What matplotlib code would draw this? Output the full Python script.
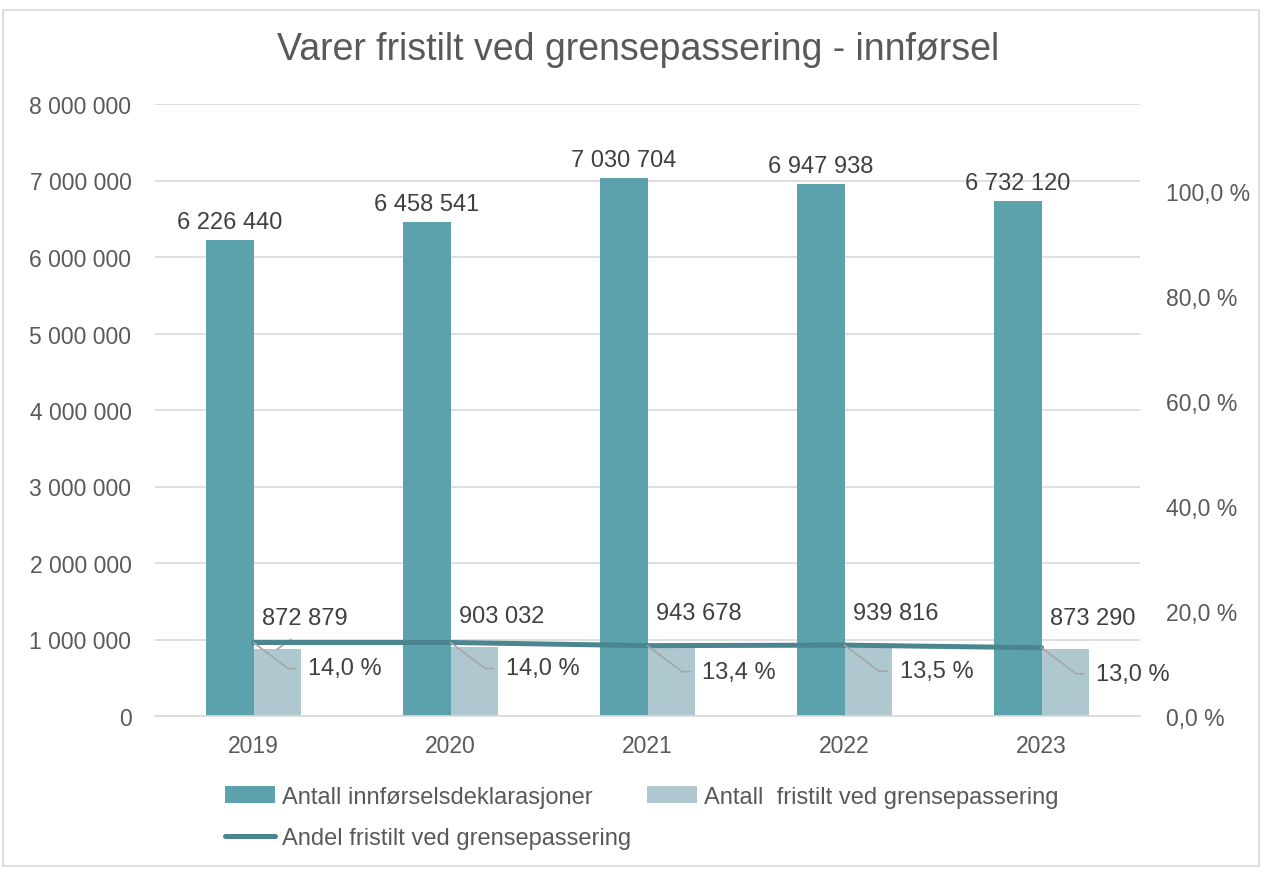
import matplotlib

matplotlib.use("Agg")
from matplotlib import pyplot as plt
from matplotlib.patches import Rectangle
from matplotlib.ticker import FuncFormatter
import numpy as np

plt.rcParams['font.family'] = ['Liberation Sans', 'DejaVu Sans']

# data
years = ['2019', '2020', '2021', '2022', '2023']
declarations = [6226440, 6458541, 7030704, 6947938, 6732120]
exempted = [872879, 903032, 943678, 939816, 873290]
share = [0.140, 0.140, 0.134, 0.135, 0.130]

title = 'Varer fristilt ved grensepassering - innførsel'
label_decl = 'Antall innførselsdeklarasjoner'
label_exempt = 'Antall  fristilt ved grensepassering'
label_share = 'Andel fristilt ved grensepassering'

dark = '#5BA2AD'
light = '#AFC8CF'
line_col = '#4A8590'
grid_col = '#D9D9D9'
tick_col = '#595959'
text_col = '#404040'


def space_thousands(v, pos=None):
    return f"{int(round(v)):,}".replace(',', ' ')


def pct(v, pos=None):
    return f"{v * 100:.1f} %".replace('.', ',')


W, H = 1262, 870
fig = plt.figure(figsize=(W / 100, H / 100), dpi=100)
fig.patches.append(Rectangle((3 / W, 3 / H), 1 - 6 / W, 1 - 14 / H,
                             transform=fig.transFigure, fill=False,
                             edgecolor=grid_col, linewidth=1.2))

ax = fig.add_axes([155 / W, 1 - 717 / H, 985 / W, 612 / H])
x = np.arange(len(years))
bw = 0.24

ax.bar(x - bw / 2, declarations, bw, color=dark, label=label_decl, zorder=2)
ax.bar(x + bw / 2, exempted, bw, color=light, label=label_exempt, zorder=2)

ax.set_xlim(-0.5, len(years) - 0.5)
ax.set_ylim(0, 8000000)
ax.set_yticks(np.arange(0, 8000001, 1000000))
ax.yaxis.set_major_formatter(FuncFormatter(space_thousands))
ax.set_xticks(x)
ax.set_xticklabels(years)
ax.grid(axis='y', color=grid_col, linewidth=1.2, zorder=0)
ax.set_axisbelow(True)
for s in ['top', 'right', 'left']:
    ax.spines[s].set_visible(False)
ax.spines['bottom'].set_color(grid_col)
ax.spines['bottom'].set_linewidth(1.2)
ax.tick_params(length=0, labelsize=16.5, labelcolor=tick_col)
ax.tick_params(axis='y', pad=17)
ax.tick_params(axis='x', pad=13)

for i, v in enumerate(declarations):
    ax.annotate(space_thousands(v), (x[i] - bw / 2, v), xytext=(0, 18),
                textcoords='offset pixels', ha='center', va='center',
                fontsize=17, color=text_col)

for i, v in enumerate(exempted):
    arrow = None
    if i == 0:
        arrow = dict(arrowstyle='-', color='#A6A6A6', lw=1.2,
                     relpos=(0.5, 0), shrinkA=9, shrinkB=0)
    ax.annotate(space_thousands(v), (x[i] + bw / 2, v), xytext=(28, 31),
                textcoords='offset pixels', ha='center', va='center',
                fontsize=17, color=text_col, arrowprops=arrow)

ax2 = ax.twinx()
ax2.plot(x, share, color=line_col, linewidth=3.6, solid_capstyle='round',
         label=label_share, zorder=3)
ax2.set_ylim(0, 612 / 525)
ax2.set_yticks(np.arange(0, 1.01, 0.2))
ax2.yaxis.set_major_formatter(FuncFormatter(pct))
for s in ['top', 'right', 'left', 'bottom']:
    ax2.spines[s].set_visible(False)
ax2.tick_params(length=0, labelsize=16.5, labelcolor=tick_col, pad=19)

for i, v in enumerate(share):
    ax2.annotate(pct(v), (x[i], v), xytext=(55, -26),
                 textcoords='offset pixels', ha='left', va='center',
                 fontsize=17, color=text_col,
                 arrowprops=dict(arrowstyle='-', color='#A6A6A6', lw=1.2,
                                 relpos=(0, 0.5), shrinkA=7, shrinkB=0,
                                 connectionstyle='angle,angleA=0,angleB=-37,rad=0'))

fig.text(638 / W, 1 - 50 / H, title, ha='center', va='center',
         fontsize=27, color=tick_col)

h1, l1 = ax.get_legend_handles_labels()
h2, l2 = ax2.get_legend_handles_labels()
handles = [h1[0], h2[0], h1[1]]
labels = [l1[0], l2[0], l1[1]]
fig.legend(handles, labels, ncol=2, loc='upper left',
           bbox_to_anchor=(225 / W, 1 - 787 / H), frameon=False,
           fontsize=17, labelcolor=tick_col, handlelength=2.1,
           handleheight=0.7, handletextpad=0.3, columnspacing=0.7,
           labelspacing=0.82, borderaxespad=0, borderpad=0)

fig.savefig('out.png', dpi=100)
plt.close(fig)
